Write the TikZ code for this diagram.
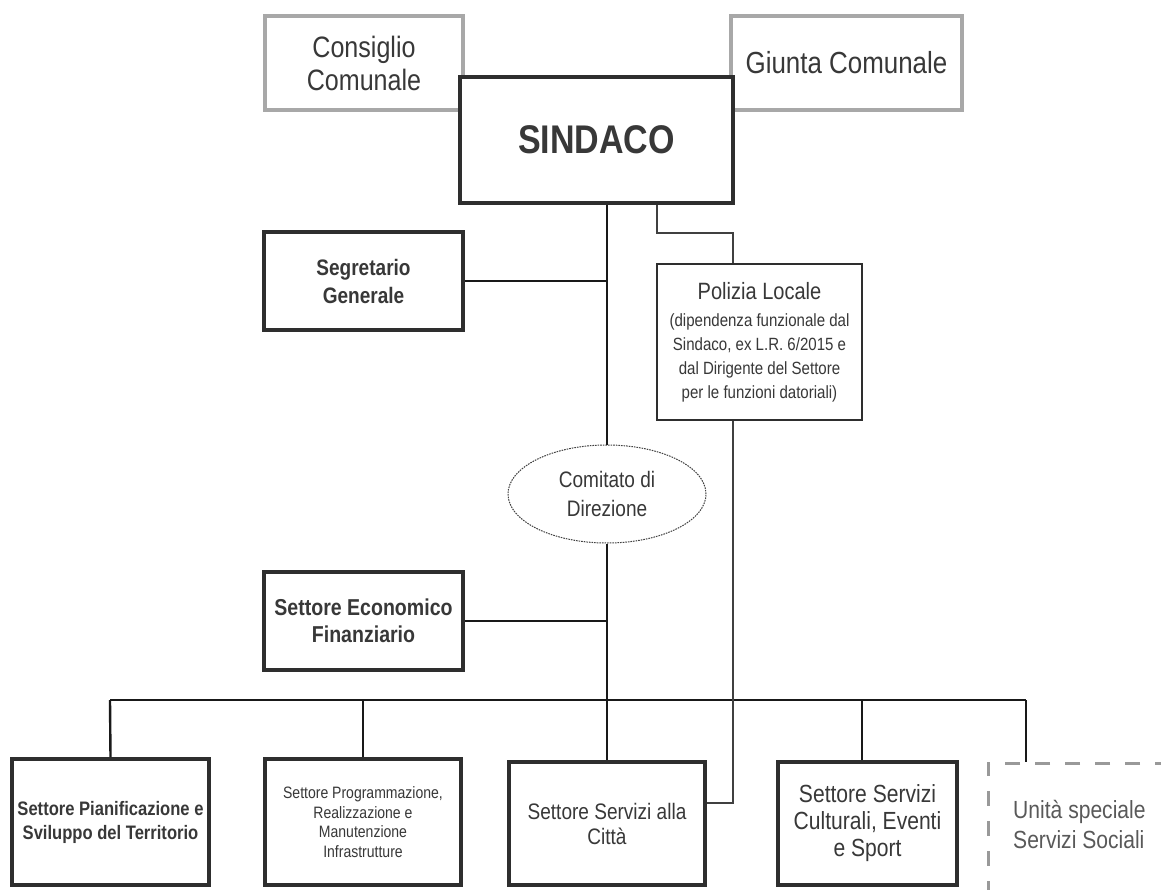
\documentclass[tikz,border=0pt]{standalone}
\usepackage{fontspec}
\setmainfont{Liberation Sans}[FakeStretch=0.85]
\usetikzlibrary{shapes.geometric}
\definecolor{txt}{HTML}{383838}
\definecolor{edge}{HTML}{2E2E2E}
\definecolor{grayedge}{HTML}{A8A8A8}
\begin{document}
\begin{tikzpicture}[x=1pt,y=-1pt,
  basebox/.style={rectangle, fill=white, inner sep=0pt, align=center, text=txt},
  thickbox/.style={basebox, draw=edge, line width=4pt},
  graybox/.style={basebox, draw=grayedge, line width=3.5pt},
  thinbox/.style={basebox, draw=edge, line width=1.3pt},
  ovalbox/.style={ellipse, draw=black!75, line width=1pt, dash pattern=on 1.6pt off 1pt, fill=white, inner sep=0pt, align=center, text=txt},
  dashbox/.style={rectangle, draw=black!40, line width=3pt, dash pattern=on 15pt off 15pt, inner sep=0pt},
  mainline/.style={draw=black!90, line width=2.4pt},
  thinline/.style={draw=black!75, line width=1.3pt}
]
\useasboundingbox (0,0) rectangle (1161,889);
\clip (0,0) rectangle (1161,889);

% top boxes
\node[graybox, minimum width=198pt, minimum height=94pt, font=\fontsize{29.5}{33}\selectfont] (cons) at (364,63) {Consiglio\\Comunale};
\node[graybox, minimum width=231pt, minimum height=94pt, font=\fontsize{30.5}{31}\selectfont] (giunta) at (846.5,63) {Giunta Comunale};
\node[thickbox, minimum width=273pt, minimum height=126pt, font=\fontsize{40}{44}\selectfont\bfseries] (sindaco) at (596.5,140) {SINDACO};

% middle
\node[thickbox, minimum width=199pt, minimum height=98pt, font=\fontsize{22.4}{28}\selectfont\bfseries] (segr) at (363.5,281) {Segretario\\Generale};
\node[thinbox, minimum width=205pt, minimum height=156pt, font=\fontsize{17.7}{24}\selectfont] (polizia) at (759.5,342)
  {\fontsize{23.6}{26}\selectfont Polizia Locale\\[3pt]
   \fontsize{17.7}{24}\selectfont (dipendenza funzionale dal\\Sindaco, ex L.R. 6/2015 e\\dal Dirigente del Settore\\per le funzioni datoriali)};
\node[ovalbox, minimum width=198pt, minimum height=98pt, font=\fontsize{22.4}{29}\selectfont] (comitato) at (607,494) {Comitato di\\Direzione};
\node[thickbox, minimum width=199pt, minimum height=98pt, font=\fontsize{23}{27}\selectfont\bfseries] (econ) at (363.5,621) {Settore Economico\\Finanziario};

% bottom boxes
\node[thickbox, minimum width=197pt, minimum height=126pt, font=\fontsize{19.5}{24}\selectfont\bfseries] (pian) at (110.5,822) {Settore Pianificazione e\\Sviluppo del Territorio};
\node[thickbox, minimum width=196pt, minimum height=126pt, font=\fontsize{16.5}{19.5}\selectfont] (prog) at (363,822) {Settore Programmazione,\\Realizzazione e\\Manutenzione\\Infrastrutture};
\node[thickbox, minimum width=196pt, minimum height=123pt, font=\fontsize{22.4}{25}\selectfont] (citta) at (607,823.5) {Settore Servizi alla\\Città};
\node[thickbox, minimum width=179pt, minimum height=123pt, font=\fontsize{24.8}{27}\selectfont] (cult) at (867.5,823.5) {Settore Servizi\\Culturali, Eventi\\e Sport};
\node[dashbox, minimum width=200pt, minimum height=142pt] (unita) at (1088,834) {};
\node[anchor=west, inner sep=0pt, align=left, text=black!65, font=\fontsize{24.8}{30}\selectfont] (unitatxt) at (1013,824) {Unità speciale\\Servizi Sociali};

% main spine
\draw[mainline] (sindaco.south -| comitato.north) -- (comitato.north);
\draw[mainline] (segr.east) -- (segr.east -| comitato.north);
\draw[mainline] (comitato.south) -- (citta.north);
\draw[mainline] (econ.east) -- (econ.east -| citta.north);

% bus
\coordinate (busL) at (110,700);
\coordinate (busR) at (1026,700);
\coordinate (cultdrop) at (862,700);
\draw[mainline] (busL) -- (busR);
\draw[mainline] (busL) -- (pian.north);
\draw[mainline] (prog.north |- busL) -- (prog.north);
\draw[mainline] (cultdrop) -- (cultdrop |- cult.north);
\draw[mainline] (busR) -- (busR |- unita.north);

% polizia thin connector
\coordinate (p1) at (657,233);
\coordinate (p2) at (733,233);
\coordinate (p3) at (733,803);
\draw[thinline] (sindaco.south -| p1) -- (p1) -- (p2) -- (p2 |- polizia.north);
\draw[thinline] (polizia.south -| p3) -- (p3) -- (p3 -| citta.east);
\end{tikzpicture}
\end{document}
